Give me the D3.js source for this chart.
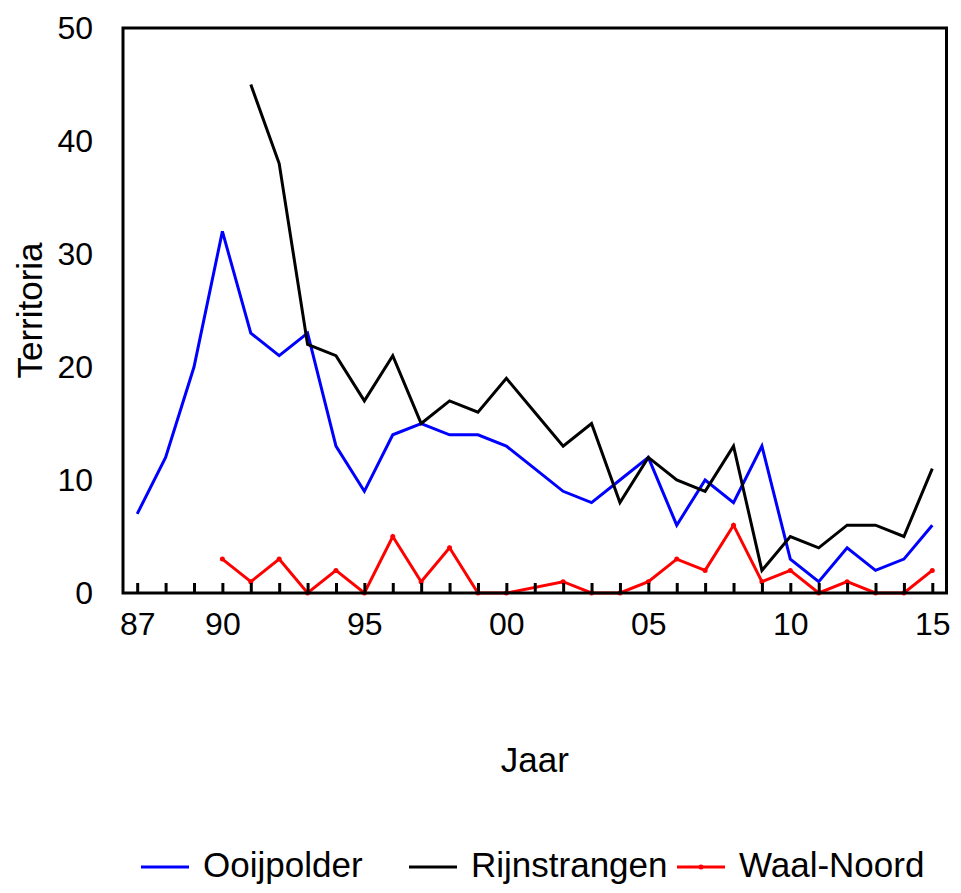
<!DOCTYPE html>
<html>
<head>
<meta charset="utf-8">
<script src="https://cdn.jsdelivr.net/npm/d3@7"></script>
<style>
  html, body { margin: 0; padding: 0; background: #fff; }
  svg { display: block; font-family: "Liberation Sans", Arial, sans-serif; }
</style>
</head>
<body>
<svg id="chart" width="961" height="893"></svg>
<script>
// Territoria per jaar, 1987–2015 (null = geen telling)
const years = d3.range(1987, 2016);
const ooijpolder = [7, 12, 20, 32, 23, 21, 23, 13, 9, 14, 15, 14, 14, 13, 11, 9, 8, 10, 12, 6, 10, 8, 13, 3, 1, 4, 2, 3, 6];
const rijnstrangen = [null, null, null, null, 45, 38, 22, 21, 17, 21, 15, 17, 16, 19, 16, 13, 15, 8, 12, 10, 9, 13, 2, 5, 4, 6, 6, 5, 11];
const waalNoord = [null, null, null, 3, 1, 3, 0, 2, 0, 5, 1, 4, 0, 0, null, 1, 0, 0, 1, 3, 2, 6, 1, 2, 0, 1, 0, 0, 2];
const labelYears = [1987, 1990, 1995, 2000, 2005, 2010, 2015];
const yTicks = [0, 10, 20, 30, 40, 50];

const seriesNames = ["Ooijpolder", "Rijnstrangen", "Waal-Noord"];
const seriesValues = [ooijpolder, rijnstrangen, waalNoord];
const seriesColors = ["#0000ff", "#000000", "#ff0000"];

const svg = d3.select("#chart");
const plotLeft = 123, plotRight = 946.5, plotTop = 28, plotBottom = 593;

const x = d3.scaleLinear().domain([1986.5, 2015.5]).range([plotLeft, plotRight]);
const y = d3.scaleLinear().domain([0, 50]).range([plotBottom, plotTop]);

// Series lines (gaps are bridged, as in the source chart)
const line = d3.line().x(d => x(d.year)).y(d => y(d.value));
seriesValues.forEach((vals, i) => {
  const pts = years.map((yr, j) => ({ year: yr, value: vals[j] })).filter(d => d.value !== null);
  svg.append("path")
    .datum(pts)
    .attr("fill", "none")
    .attr("stroke", seriesColors[i])
    .attr("stroke-width", 3)
    .attr("stroke-linejoin", "miter")
    .attr("d", line);
  if (i === 2) {
    svg.append("g").selectAll("circle").data(pts).join("circle")
      .attr("cx", d => x(d.year)).attr("cy", d => y(d.value))
      .attr("r", 2.5).attr("fill", seriesColors[i]);
  }
});

// X axis: inward ticks at every year, two-digit labels at selected years
const xAxis = d3.axisBottom(x)
  .tickValues(years)
  .tickSizeInner(-10)
  .tickSizeOuter(0)
  .tickPadding(19)
  .tickFormat(d => labelYears.includes(d) ? String(d % 100).padStart(2, "0") : "");
const gx = svg.append("g").attr("transform", `translate(0,${plotBottom})`).call(xAxis);
gx.select(".domain").remove();
gx.selectAll(".tick line").attr("stroke", "#000").attr("stroke-width", 3);
gx.selectAll(".tick text").attr("font-size", 32).attr("fill", "#000").attr("font-family", "Liberation Sans, Arial, sans-serif");

// Y axis: labels only
const yAxis = d3.axisLeft(y).tickValues(yTicks).tickSize(0).tickPadding(30);
const gy = svg.append("g").attr("transform", `translate(${plotLeft},0)`).call(yAxis);
gy.select(".domain").remove();
gy.selectAll(".tick text").attr("font-size", 32).attr("fill", "#000").attr("font-family", "Liberation Sans, Arial, sans-serif");

// Plot frame
svg.append("rect")
  .attr("x", plotLeft).attr("y", plotTop)
  .attr("width", plotRight - plotLeft).attr("height", plotBottom - plotTop)
  .attr("fill", "none").attr("stroke", "#000").attr("stroke-width", 3);

// Axis titles
svg.append("text")
  .attr("x", (plotLeft + plotRight) / 2).attr("y", 772)
  .attr("text-anchor", "middle").attr("font-size", 35)
  .text("Jaar");
svg.append("text")
  .attr("transform", `translate(42,${(plotTop + plotBottom) / 2}) rotate(-90)`)
  .attr("text-anchor", "middle").attr("font-size", 35)
  .text("Territoria");

// Legend
const legendX = [141, 409, 677];
const legend = svg.append("g");
seriesNames.forEach((name, i) => {
  const g = legend.append("g").attr("transform", `translate(${legendX[i]},0)`);
  g.append("line").attr("x1", 0).attr("x2", 48).attr("y1", 867).attr("y2", 867)
    .attr("stroke", seriesColors[i]).attr("stroke-width", 3);
  if (i === 2) g.append("circle").attr("cx", 24).attr("cy", 867).attr("r", 2.5).attr("fill", seriesColors[i]);
  g.append("text").attr("x", 62).attr("y", 877).attr("font-size", 35).text(name);
});
</script>
</body>
</html>
